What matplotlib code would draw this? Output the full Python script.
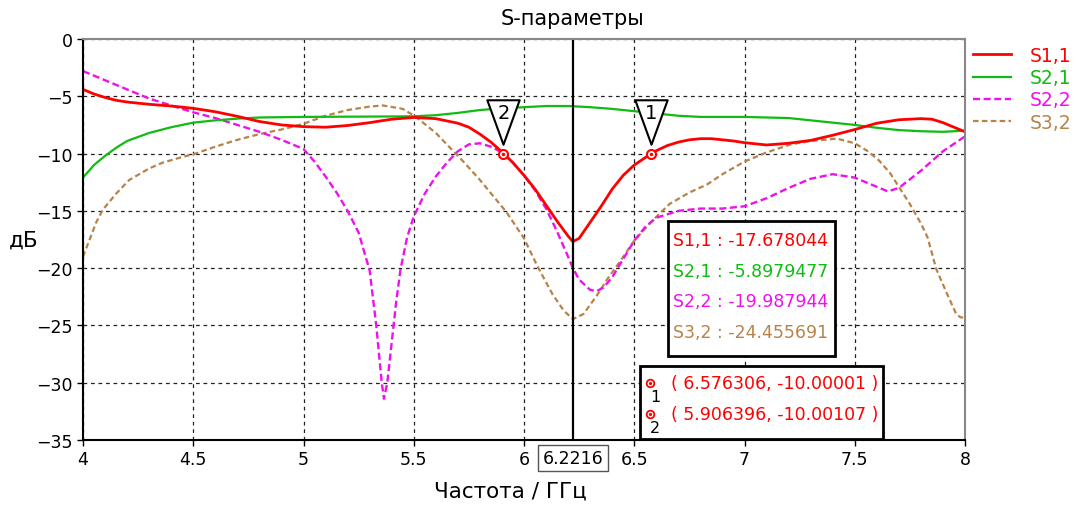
import matplotlib
matplotlib.use('Agg')
import matplotlib.pyplot as plt
from matplotlib.patches import Rectangle
from matplotlib.lines import Line2D
from matplotlib.path import Path
import matplotlib.transforms as mtransforms

# --- data ---
f_s11 = [4.0, 4.05, 4.1, 4.15, 4.2, 4.3, 4.4, 4.5, 4.6, 4.7, 4.8, 4.9, 5.0, 5.1, 5.2, 5.3, 5.4,
         5.5, 5.6, 5.7, 5.75, 5.8, 5.85, 5.9, 5.95, 6.0, 6.05, 6.1, 6.15, 6.2, 6.2216, 6.25, 6.3,
         6.35, 6.4, 6.45, 6.5, 6.55, 6.576306, 6.6, 6.65, 6.7, 6.75, 6.8, 6.85, 6.9, 6.95, 7.0,
         7.1, 7.2, 7.3, 7.4, 7.5, 7.6, 7.7, 7.8, 7.85, 7.9, 7.95, 8.0]
s11 = [-4.4, -4.8, -5.1, -5.35, -5.5, -5.7, -5.85, -6.05, -6.35, -6.75, -7.2, -7.5, -7.65, -7.7, -7.55, -7.3, -7.0,
       -6.85, -6.95, -7.35, -7.7, -8.3, -9.0, -9.85, -10.8, -11.9, -13.1, -14.5, -15.9, -17.2, -17.68, -17.4, -16.0,
       -14.6, -13.1, -11.9, -11.0, -10.35, -10.0, -9.75, -9.3, -9.0, -8.8, -8.7, -8.7, -8.8, -8.9, -9.05,
       -9.25, -9.1, -8.85, -8.4, -7.9, -7.35, -7.05, -6.95, -7.0, -7.3, -7.7, -8.1]

f_s21 = [4.0, 4.05, 4.1, 4.15, 4.2, 4.3, 4.4, 4.5, 4.6, 4.7, 4.8, 5.0, 5.5, 5.6, 5.7, 5.8, 5.9, 6.0,
         6.1, 6.2, 6.3, 6.4, 6.5, 6.6, 6.7, 6.8, 7.0, 7.2, 7.3, 7.4, 7.5, 7.6, 7.7, 7.8, 7.9, 8.0]
s21 = [-12.1, -11.0, -10.2, -9.5, -8.9, -8.2, -7.7, -7.3, -7.1, -6.95, -6.85, -6.8, -6.75, -6.65, -6.45, -6.2, -6.05, -5.95,
       -5.85, -5.85, -5.95, -6.1, -6.3, -6.5, -6.7, -6.8, -6.8, -6.9, -7.1, -7.3, -7.5, -7.75, -7.95, -8.05, -8.1, -8.0]

f_s22 = [4.0, 4.1, 4.2, 4.3, 4.4, 4.5, 4.6, 4.7, 4.8, 4.9, 5.0, 5.05, 5.1, 5.15, 5.2, 5.25, 5.3, 5.33,
         5.355, 5.365, 5.38, 5.4, 5.42, 5.44, 5.47, 5.5, 5.55, 5.6, 5.65, 5.7, 5.75, 5.8, 5.85, 5.9,
         5.95, 6.0, 6.05, 6.1, 6.15, 6.2, 6.2216, 6.25, 6.3, 6.33, 6.36, 6.4, 6.45, 6.5, 6.55, 6.6,
         6.7, 6.8, 6.9, 7.0, 7.1, 7.2, 7.3, 7.4, 7.5, 7.6, 7.65, 7.7, 7.8, 7.9, 8.0]
s22 = [-2.8, -3.6, -4.4, -5.2, -5.8, -6.4, -6.9, -7.5, -8.1, -8.8, -9.6, -10.7, -12.0, -13.4, -15.0, -16.9, -20.2, -25.0,
       -30.0, -31.4, -30.0, -26.5, -23.0, -20.1, -17.3, -15.5, -13.5, -12.0, -10.8, -9.8, -9.2, -9.1, -9.4, -9.9,
       -10.8, -11.9, -13.2, -14.8, -16.8, -19.0, -19.99, -21.0, -21.9, -22.0, -21.7, -20.8, -19.2, -17.6, -16.4, -15.6,
       -15.0, -14.8, -14.8, -14.6, -13.9, -13.0, -12.2, -11.8, -12.1, -12.9, -13.3, -13.0, -11.5, -9.8, -8.5]

f_s32 = [4.0, 4.03, 4.06, 4.09, 4.15, 4.21, 4.3, 4.36, 4.45, 4.51, 4.6, 4.7, 4.8, 4.9, 5.0, 5.1, 5.2,
         5.3, 5.36, 5.45, 5.51, 5.6, 5.66, 5.73, 5.8, 5.86, 5.92, 6.0, 6.06, 6.13, 6.18, 6.2216, 6.27,
         6.33, 6.38, 6.44, 6.5, 6.58, 6.66, 6.75, 6.83, 6.9, 7.0, 7.1, 7.21, 7.3, 7.42, 7.5, 7.56,
         7.61, 7.66, 7.7, 7.75, 7.8, 7.83, 7.87, 7.92, 7.96, 7.98, 8.0]
s32 = [-19.0, -17.5, -16.0, -14.9, -13.5, -12.3, -11.3, -10.8, -10.3, -10.0, -9.4, -8.8, -8.3, -7.9, -7.4, -6.7, -6.2,
       -5.9, -5.8, -6.1, -6.8, -8.2, -9.4, -10.8, -12.3, -13.7, -15.1, -17.4, -19.8, -22.3, -23.7, -24.456, -24.0,
       -22.4, -20.9, -19.3, -17.6, -15.9, -14.4, -13.4, -12.7, -11.8, -10.7, -9.9, -9.2, -8.9, -8.7, -9.1, -9.8,
       -10.6, -11.7, -12.9, -14.4, -16.1, -17.3, -20.1, -22.3, -24.0, -24.3, -24.3]

series_names = ['S1,1', 'S2,1', 'S2,2', 'S3,2']
series_colors = ['#ff0000', '#11bb11', '#ee11ee', '#b8834a']

cursor_f = 6.2216
cursor_vals = ['-17.678044', '-5.8979477', '-19.987944', '-24.455691']

marker_ids = ['1', '2']
marker_f = [6.576306, 5.906396]
marker_db = [-10.00001, -10.00107]

W, H = 1078, 506
def fx(px): return px / W
def fy(py): return 1 - py / H

plt.rcParams['font.family'] = 'DejaVu Sans'
fig = plt.figure(figsize=(W / 100, H / 100), dpi=100)
ax = fig.add_axes([fx(83), fy(441), fx(965) - fx(83), fy(40) - fy(441)])

lines = {}
lines['S3,2'], = ax.plot(f_s32, s32, color=series_colors[3], lw=1.6, ls=(0, (2.5, 1.5)))
lines['S2,2'], = ax.plot(f_s22, s22, color=series_colors[2], lw=1.7, ls=(0, (3, 1.5)))
lines['S2,1'], = ax.plot(f_s21, s21, color=series_colors[1], lw=1.6)
lines['S1,1'], = ax.plot(f_s11, s11, color=series_colors[0], lw=2.0)

ax.set_xlim(4, 8)
ax.set_ylim(-35, 0)
ax.set_xticks([4, 4.5, 5, 5.5, 6, 6.5, 7, 7.5, 8])
ax.set_xticklabels(['4', '4.5', '5', '5.5', '6', '6.5', '7', '7.5', '8'])
ax.set_yticks(range(-35, 1, 5))
ax.grid(True, color='#222222', linestyle=(0, (3, 3)), linewidth=0.9)
ax.tick_params(direction='out', length=4, width=1, labelsize=12.5, colors='black')
for s in ['left', 'bottom']:
    ax.spines[s].set_linewidth(1.5)
for s in ['top', 'right']:
    ax.spines[s].set_color('#888888')
    ax.spines[s].set_linewidth(1.5)

fig.text(fx(572), fy(19), 'S-параметры', fontsize=15, ha='center', va='center')
ax.set_xlabel('Частота / ГГц', fontsize=15.5, va='center')
ax.xaxis.set_label_coords(0.484, -0.127)
ax.set_ylabel('дБ', fontsize=15.5, rotation=0, va='center', ha='center')
ax.yaxis.set_label_coords(-0.067, 0.5)

# cursor line + boxed readout on the axis
ax.axvline(cursor_f, color='black', lw=1.6)
ax.text(cursor_f, -0.045, '%.4f' % cursor_f, transform=ax.get_xaxis_transform(), ha='center', va='center',
        fontsize=12.5, bbox=dict(boxstyle='square,pad=0.25', fc='white', ec='#555555', lw=1))

# markers on S1,1
up = mtransforms.offset_copy(ax.transData, fig=fig, x=0, y=31.5, units='dots')
up_txt = mtransforms.offset_copy(ax.transData, fig=fig, x=0, y=41, units='dots')
tri = Path([(-16, 22), (16, 22), (0, -22), (-16, 22)],
           [Path.MOVETO, Path.LINETO, Path.LINETO, Path.CLOSEPOLY])
for mid, mf, mdb in zip(marker_ids, marker_f, marker_db):
    ax.plot([mf], [mdb], marker=tri, ms=32, mfc='white', mec='black', mew=1.5, transform=up, zorder=6)
    ax.text(mf, mdb, mid, transform=up_txt, ha='center', va='center', fontsize=14, zorder=7)
    ax.plot([mf], [mdb], marker='o', ms=6.5, mfc='white', mec='red', mew=1.5, zorder=8)
    ax.plot([mf], [mdb], marker='o', ms=1.5, color='red', zorder=9)

# cursor value box
fig.add_artist(Rectangle((fx(668), fy(357)), fx(835) - fx(668), fy(222) - fy(357),
                         transform=fig.transFigure, fc='white', ec='black', lw=2, zorder=10))
for i, (name, val, col) in enumerate(zip(series_names, cursor_vals, series_colors)):
    fig.text(fx(673), fy(241 + i * 30.7), name + ' : ' + val, color=col, fontsize=12.5,
             va='center', ha='left', zorder=11)

# marker value box
fig.add_artist(Rectangle((fx(640), fy(440)), fx(883) - fx(640), fy(367) - fy(440),
                         transform=fig.transFigure, fc='white', ec='black', lw=2, zorder=10))
for i, (mid, mf, mdb) in enumerate(zip(marker_ids, marker_f, marker_db)):
    yy = 384 + i * 31
    fig.add_artist(Line2D([fx(650)], [fy(yy)], marker='o', ms=5.5, mfc='white', mec='red', mew=1.3,
                          transform=fig.transFigure, zorder=11))
    fig.add_artist(Line2D([fx(650)], [fy(yy)], marker='o', ms=1.3, color='red',
                          transform=fig.transFigure, zorder=12))
    fig.text(fx(655), fy(yy + 14), mid, fontsize=11.5, color='black', ha='center', va='center', zorder=11)
    fig.text(fx(671), fy(yy), '( %.6f, %.5f )' % (mf, mdb), color='red', fontsize=12.5,
             va='center', ha='left', zorder=11)

# legend outside on the right
ax.legend([lines[n] for n in series_names], series_names, loc='upper left', bbox_to_anchor=(fx(973), fy(47)),
          bbox_transform=fig.transFigure, frameon=False, fontsize=13.5, handlelength=2.0, handletextpad=1.05,
          labelspacing=0.17, borderaxespad=0, borderpad=0, labelcolor='linecolor')

fig.savefig('out.png', dpi=100)
